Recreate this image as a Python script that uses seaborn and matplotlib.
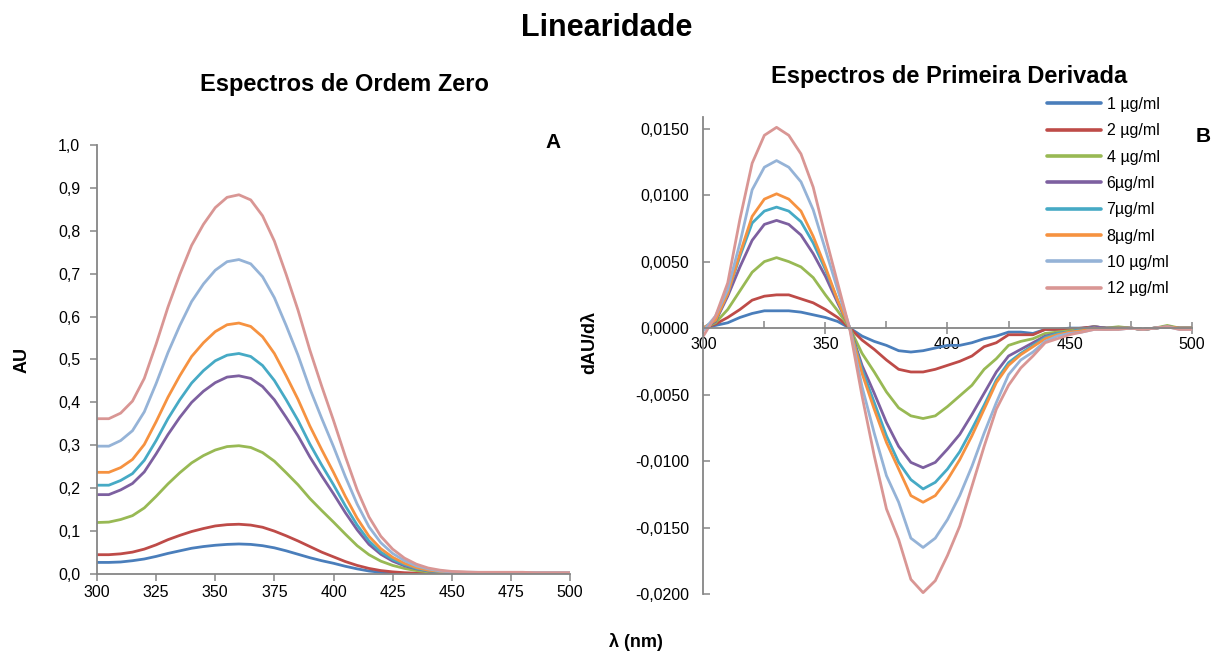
import matplotlib
matplotlib.use("Agg")
import matplotlib.pyplot as plt
import pandas as pd
import seaborn as sns
from matplotlib.ticker import FuncFormatter, MultipleLocator

# ---------------- data ----------------
wavelength = list(range(300, 505, 5))

labels = ["1 µg/ml", "2 µg/ml", "4 µg/ml", "6µg/ml", "7µg/ml", "8µg/ml", "10 µg/ml", "12 µg/ml"]
colors = ["#4A7EBB", "#BE4B48", "#98B954", "#7D60A0", "#46AAC5", "#F69240", "#95B3D7", "#D99694"]

# zero-order spectra (AU)
zo_1 = [0.027, 0.027, 0.028, 0.031, 0.035, 0.041, 0.048, 0.054, 0.060, 0.064, 0.067, 0.069, 0.070,
        0.069, 0.066, 0.061, 0.054, 0.046, 0.038, 0.031, 0.025, 0.018, 0.012, 0.007, 0.004, 0.002, 0.001, 0.000, -0.001, -0.001, -0.001,
        -0.001, -0.001, -0.001, -0.001, -0.001, -0.001, -0.001, -0.001, -0.001, -0.001]
zo_2 = [0.045, 0.045, 0.047, 0.051, 0.058, 0.068, 0.080, 0.090, 0.099, 0.106, 0.112, 0.115, 0.116,
        0.114, 0.109, 0.100, 0.089, 0.077, 0.064, 0.051, 0.040, 0.029, 0.020, 0.013, 0.008, 0.005, 0.003, 0.002, 0.001, 0.001, 0.000,
        0.000, 0.000, 0.000, 0.000, 0.000, 0.000, 0.000, 0.000, 0.000, 0.000]
zo_4 = [0.120, 0.121, 0.127, 0.136, 0.154, 0.181, 0.210, 0.236, 0.259, 0.276, 0.289, 0.297, 0.299,
        0.295, 0.283, 0.263, 0.236, 0.208, 0.176, 0.148, 0.121, 0.093, 0.066, 0.045, 0.030, 0.020, 0.013, 0.008, 0.005, 0.003, 0.002,
        0.002, 0.002, 0.001, 0.001, 0.001, 0.001, 0.001, 0.001, 0.001, 0.001]
zo_6 = [0.185, 0.185, 0.196, 0.211, 0.238, 0.280, 0.325, 0.365, 0.400, 0.426, 0.446, 0.459, 0.462,
        0.456, 0.437, 0.406, 0.365, 0.322, 0.273, 0.229, 0.187, 0.143, 0.103, 0.069, 0.046, 0.030, 0.019, 0.012, 0.007, 0.005, 0.003,
        0.003, 0.002, 0.002, 0.002, 0.002, 0.002, 0.002, 0.002, 0.002, 0.002]
zo_7 = [0.207, 0.207, 0.218, 0.234, 0.265, 0.311, 0.362, 0.406, 0.445, 0.474, 0.497, 0.510, 0.514,
        0.507, 0.486, 0.451, 0.406, 0.358, 0.303, 0.254, 0.208, 0.159, 0.114, 0.077, 0.051, 0.034, 0.022, 0.013, 0.008, 0.005, 0.004,
        0.003, 0.003, 0.003, 0.003, 0.002, 0.002, 0.002, 0.002, 0.002, 0.002]
zo_8 = [0.237, 0.237, 0.248, 0.267, 0.302, 0.355, 0.412, 0.462, 0.507, 0.539, 0.565, 0.581, 0.585,
        0.577, 0.553, 0.514, 0.462, 0.407, 0.345, 0.290, 0.237, 0.181, 0.130, 0.088, 0.059, 0.039, 0.025, 0.015, 0.009, 0.006, 0.004,
        0.004, 0.003, 0.003, 0.003, 0.002, 0.002, 0.002, 0.002, 0.002, 0.002]
zo_10 = [0.298, 0.298, 0.311, 0.334, 0.378, 0.444, 0.516, 0.579, 0.635, 0.676, 0.708, 0.728, 0.733,
         0.723, 0.693, 0.644, 0.579, 0.510, 0.432, 0.363, 0.297, 0.227, 0.163, 0.110, 0.073, 0.048, 0.031, 0.019, 0.012, 0.007, 0.005,
         0.004, 0.004, 0.003, 0.003, 0.003, 0.003, 0.003, 0.003, 0.003, 0.003]
zo_12 = [0.362, 0.362, 0.375, 0.403, 0.456, 0.536, 0.622, 0.698, 0.766, 0.815, 0.854, 0.878, 0.884,
         0.872, 0.835, 0.776, 0.698, 0.615, 0.522, 0.438, 0.358, 0.274, 0.196, 0.133, 0.088, 0.058, 0.037, 0.023, 0.014, 0.009, 0.006,
         0.005, 0.004, 0.004, 0.004, 0.004, 0.004, 0.003, 0.003, 0.003, 0.003]

# first-derivative spectra (dAU/dλ)
d1_1 = [0.0000, 0.0002, 0.0004, 0.0008, 0.0011, 0.0013, 0.0013, 0.0013, 0.0012, 0.0010, 0.0008, 0.0005, 0.0000,
        -0.0006, -0.0010, -0.0013, -0.0017, -0.0018, -0.0017, -0.0015, -0.0013, -0.0013, -0.0011, -0.0008, -0.0006, -0.0003, -0.0003, -0.0004, -0.0001, -0.0001, 0.0000,
        0.0000, 0.0001, 0.0000, 0.0000, 0.0000, -0.0001, 0.0000, 0.0001, 0.0000, 0.0000]
d1_2 = [0.0000, 0.0003, 0.0008, 0.0014, 0.0021, 0.0024, 0.0025, 0.0025, 0.0022, 0.0019, 0.0014, 0.0008, 0.0000,
        -0.0009, -0.0016, -0.0024, -0.0031, -0.0033, -0.0033, -0.0031, -0.0028, -0.0025, -0.0021, -0.0014, -0.0011, -0.0005, -0.0005, -0.0005, -0.0001, -0.0001, -0.0001,
        0.0000, 0.0001, 0.0000, 0.0000, 0.0000, -0.0001, 0.0000, 0.0001, 0.0000, 0.0000]
d1_4 = [0.0000, 0.0004, 0.0014, 0.0028, 0.0042, 0.0050, 0.0053, 0.0050, 0.0046, 0.0038, 0.0025, 0.0013, 0.0000,
        -0.0019, -0.0033, -0.0048, -0.0060, -0.0066, -0.0068, -0.0066, -0.0059, -0.0051, -0.0043, -0.0031, -0.0023, -0.0013, -0.0010, -0.0008, -0.0004, -0.0003, -0.0002,
        -0.0001, 0.0001, 0.0000, 0.0001, 0.0000, -0.0001, 0.0000, 0.0002, 0.0000, 0.0000]
d1_6 = [0.0000, 0.0005, 0.0024, 0.0046, 0.0066, 0.0078, 0.0081, 0.0078, 0.0070, 0.0056, 0.0039, 0.0019, 0.0000,
        -0.0028, -0.0049, -0.0071, -0.0089, -0.0101, -0.0105, -0.0101, -0.0091, -0.0080, -0.0065, -0.0049, -0.0033, -0.0021, -0.0016, -0.0011, -0.0006, -0.0004, -0.0003,
        -0.0001, 0.0001, 0.0000, 0.0000, 0.0000, -0.0001, 0.0000, 0.0001, 0.0000, 0.0000]
d1_7 = [0.0000, 0.0006, 0.0026, 0.0054, 0.0079, 0.0088, 0.0091, 0.0088, 0.0080, 0.0064, 0.0044, 0.0021, 0.0000,
        -0.0031, -0.0056, -0.0081, -0.0101, -0.0114, -0.0121, -0.0116, -0.0106, -0.0093, -0.0076, -0.0058, -0.0039, -0.0026, -0.0019, -0.0013, -0.0007, -0.0004, -0.0003,
        -0.0001, 0.0000, -0.0001, 0.0000, 0.0000, -0.0001, 0.0000, 0.0001, 0.0000, 0.0000]
d1_8 = [0.0000, 0.0006, 0.0026, 0.0056, 0.0084, 0.0097, 0.0101, 0.0097, 0.0088, 0.0069, 0.0046, 0.0021, 0.0000,
        -0.0034, -0.0061, -0.0086, -0.0106, -0.0126, -0.0131, -0.0126, -0.0114, -0.0099, -0.0081, -0.0061, -0.0041, -0.0028, -0.0020, -0.0014, -0.0008, -0.0005, -0.0003,
        -0.0002, 0.0000, -0.0001, 0.0000, 0.0000, -0.0001, 0.0000, 0.0001, 0.0000, 0.0000]
d1_10 = [-0.0002, 0.0009, 0.0029, 0.0064, 0.0104, 0.0121, 0.0126, 0.0121, 0.0110, 0.0089, 0.0059, 0.0029, 0.0000,
         -0.0044, -0.0079, -0.0111, -0.0131, -0.0158, -0.0165, -0.0158, -0.0144, -0.0126, -0.0104, -0.0079, -0.0056, -0.0035, -0.0024, -0.0018, -0.0010, -0.0006, -0.0004,
         -0.0003, -0.0001, -0.0001, -0.0001, 0.0000, -0.0001, 0.0000, 0.0001, -0.0001, -0.0001]
d1_12 = [-0.0006, 0.0009, 0.0034, 0.0082, 0.0124, 0.0145, 0.0151, 0.0145, 0.0131, 0.0106, 0.0069, 0.0034, -0.0001,
         -0.0051, -0.0096, -0.0136, -0.0159, -0.0189, -0.0199, -0.0190, -0.0171, -0.0149, -0.0119, -0.0089, -0.0061, -0.0043, -0.0030, -0.0021, -0.0011, -0.0008, -0.0005,
         -0.0003, -0.0001, -0.0001, -0.0001, 0.0000, -0.0001, 0.0000, 0.0001, -0.0001, -0.0001]

zero_series = [zo_1, zo_2, zo_4, zo_6, zo_7, zo_8, zo_10, zo_12]
deriv_series = [d1_1, d1_2, d1_4, d1_6, d1_7, d1_8, d1_10, d1_12]

# long-format tables
rows_zero, rows_der = [], []
for lab, zs, ds in zip(labels, zero_series, deriv_series):
    for w, z, d in zip(wavelength, zs, ds):
        rows_zero.append({"nm": w, "AU": z, "conc": lab})
        rows_der.append({"nm": w, "dAU": d, "conc": lab})
df_zero = pd.DataFrame(rows_zero)
df_der = pd.DataFrame(rows_der)
palette = dict(zip(labels, colors))

# ---------------- style ----------------
sns.set_theme(style="white")
plt.rcParams["font.family"] = ["Liberation Sans", "DejaVu Sans"]
plt.rcParams["axes.unicode_minus"] = False
plt.rcParams["text.color"] = "black"
plt.rcParams["axes.labelcolor"] = "black"
plt.rcParams["xtick.color"] = "black"
plt.rcParams["ytick.color"] = "black"

W, H = 1220, 655
fig = plt.figure(figsize=(W / 100, H / 100), dpi=100)
fig.patch.set_facecolor("white")


def fx(x):
    return x / W


def fy(y):
    return 1 - y / H


ax1 = fig.add_axes([fx(97), fy(574), (570 - 97) / W, (574 - 145) / H])
ax2 = fig.add_axes([fx(703.3), fy(594), (1191.7 - 703.3) / W, (594 - 116.7) / H])

sns.lineplot(data=df_zero, x="nm", y="AU", hue="conc", hue_order=labels, palette=palette,
             estimator=None, sort=False, linewidth=2.0, legend=False, ax=ax1)
sns.lineplot(data=df_der, x="nm", y="dAU", hue="conc", hue_order=labels, palette=palette,
             estimator=None, sort=False, linewidth=2.0, legend=True, ax=ax2)

spine_col = "#868686"
tick_fs = 11.5

# left panel
ax1.set_xlim(300, 500)
ax1.set_ylim(0, 1.0)
ax1.xaxis.set_major_locator(MultipleLocator(25))
ax1.yaxis.set_major_locator(MultipleLocator(0.1))
ax1.yaxis.set_major_formatter(FuncFormatter(lambda v, p: f"{v:.1f}".replace(".", ",")))
for s in ["top", "right"]:
    ax1.spines[s].set_visible(False)
for s in ["left", "bottom"]:
    ax1.spines[s].set_color(spine_col)
    ax1.spines[s].set_linewidth(1.3)
ax1.tick_params(axis="y", direction="out", length=5, width=1.1, color=spine_col,
                labelsize=tick_fs, labelcolor="black", left=True, pad=7)
ax1.tick_params(axis="x", direction="out", length=5, width=1.1, color=spine_col,
                labelsize=tick_fs, labelcolor="black", bottom=True, pad=3)
ax1.set_xlabel("")
ax1.set_ylabel("")

# right panel
ax2.set_xlim(300, 500)
ax2.set_ylim(-0.02, 0.0159)
ax2.xaxis.set_major_locator(MultipleLocator(50))
ax2.xaxis.set_minor_locator(MultipleLocator(25))
ax2.yaxis.set_major_locator(MultipleLocator(0.005))


def dfmt(v, p):
    if abs(v) < 1e-9:
        v = 0.0
    return f"{v:.4f}".replace(".", ",")


ax2.yaxis.set_major_formatter(FuncFormatter(dfmt))
for s in ["top", "right"]:
    ax2.spines[s].set_visible(False)
ax2.spines["bottom"].set_position(("data", 0))
for s in ["left", "bottom"]:
    ax2.spines[s].set_color(spine_col)
    ax2.spines[s].set_linewidth(1.3)
ax2.tick_params(axis="y", direction="in", length=5, width=1.1, color=spine_col,
                labelsize=tick_fs, labelcolor="black", left=True, pad=10)
ax2.tick_params(axis="x", which="major", direction="inout", length=9, width=1.1, color=spine_col,
                labelsize=tick_fs, labelcolor="black", bottom=True, pad=2)
ax2.tick_params(axis="x", which="minor", direction="in", length=5, width=1.1, color=spine_col, bottom=True)
ax2.set_xlabel("")
ax2.set_ylabel("")

sns.move_legend(ax2, loc="upper left", bbox_to_anchor=(fx(1047), fy(97)),
                bbox_transform=fig.transFigure, frameon=False, title=None,
                fontsize=11.5, handlelength=3.4, handletextpad=0.33,
                labelspacing=0.71, borderpad=0, borderaxespad=0)
for line in ax2.get_legend().get_lines():
    line.set_linewidth(2.6)

# texts
fig.text(fx(607), fy(28), "Linearidade", ha="center", va="center", fontsize=22, fontweight="bold")
fig.text(fx(344), fy(84), "Espectros de Ordem Zero", ha="center", va="center", fontsize=17, fontweight="bold")
fig.text(fx(949), fy(77), "Espectros de Primeira Derivada", ha="center", va="center", fontsize=17, fontweight="bold")
fig.text(fx(553), fy(143), "A", ha="center", va="center", fontsize=15, fontweight="bold")
fig.text(fx(1203), fy(137), "B", ha="center", va="center", fontsize=15, fontweight="bold")
fig.text(fx(22), fy(360), "AU", ha="center", va="center", rotation=90, fontsize=13, fontweight="bold")
fig.text(fx(590), fy(342), "dAU/dλ", ha="center", va="center", rotation=90, fontsize=13, fontweight="bold")
fig.text(fx(636), fy(642), "λ (nm)", ha="center", va="center", fontsize=13, fontweight="bold")

fig.savefig("out.png", dpi=100, facecolor="white")
